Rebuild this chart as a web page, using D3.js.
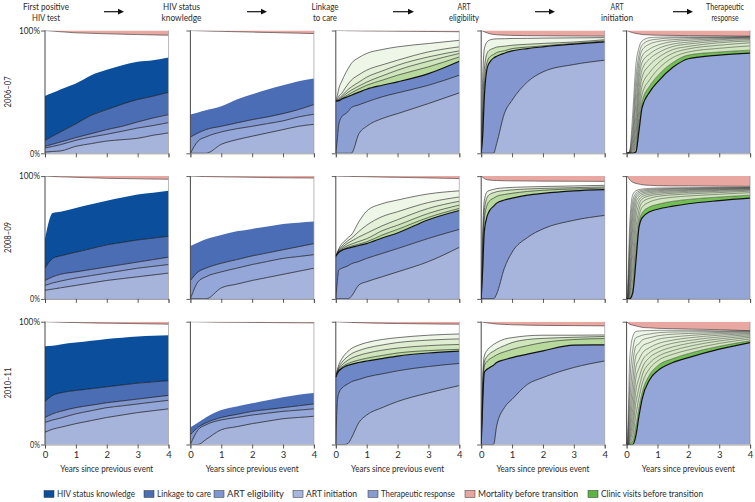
<!DOCTYPE html>
<html><head><meta charset="utf-8">
<script src="https://cdn.jsdelivr.net/npm/d3@7"></script>
<style>
body{margin:0;background:#fff;}
text{font-family:Lato,"Open Sans",sans-serif;fill:#2b2b2b;}
</style></head><body>
<svg id="chart" width="755" height="502"></svg>
<script>
// ---------- labels ----------
const periods = ["2006–07", "2008–09", "2010–11"];
const stageTitles = [["First positive","HIV test"],["HIV status","knowledge"],["Linkage","to care"],["ART","eligibility"],["ART","initiation"],["Therapeutic","response"]];
const xTicks = [0, 1, 2, 3, 4];
const yTicks = [0, 100];
const yTickLabels = ["0%", "100%"];
const xAxisTitle = "Years since previous event";
const legendLabels = ["HIV status knowledge","Linkage to care","ART eligibility","ART initiation","Therapeutic response","Mortality before transition","Clinic visits before transition"];

// ---------- time grids (years since previous event) ----------
const gridCoarse = [0, 0.25, 0.5, 1, 1.5, 2, 2.5, 3, 3.5, 4];
const gridFine = [0, 0.05, 0.1, 0.2, 0.3, 0.4, 0.5, 0.75, 1, 1.5, 2, 3, 4];

// ---------- cumulative % (bottom -> top) ----------
// 2006–07
const blue_06_1 = [
  [1, 1.5, 1.9, 5.7, 7.9, 10, 11.1, 12.2, 14.7, 16.6],
  [4.3, 5.6, 7, 10.6, 13.3, 15.5, 18, 20.6, 22.6, 25],
  [5.7, 7.4, 9.2, 12.8, 16, 19.3, 22, 25.5, 28.8, 31.5],
  [10.6, 14, 17.4, 24, 31, 35.6, 40, 43.8, 46.5, 49.7],
  [46.7, 49.3, 52, 56.8, 63.6, 68, 71.7, 74.5, 75.8, 78]];
const death_06_1 = [0, 0.5, 1, 1.9, 2.3, 2.7, 3, 3.3, 3.6, 3.8];
const blue_06_2 = [
  [0, 0, 0, 7.3, 11.1, 13.9, 16.6, 19.3, 22, 23.6],
  [0, 10, 13.3, 17.4, 20, 22, 24.2, 26.4, 29.6, 31.8],
  [13.3, 16.6, 19.3, 22, 24.7, 27.4, 29.6, 32.3, 35.6, 39.7],
  [31.5, 33.3, 35, 38.3, 43.8, 48, 52, 55.4, 58.7, 60.9]];
const death_06_2 = [0, 0.2, 0.4, 0.7, 1, 1.3, 1.6, 1.9, 2.2, 2.5];
const blue_06_3 = [
  [0, 0, 0, 0, 0, 0, 0, 16, 22, 28.3, 32.3, 40.5, 49.2],
  [0, 12, 24, 30, 32, 34, 37.2, 39.5, 41.8, 46, 49.2, 55.4, 63.6],
  [42.4, 42.6, 42.9, 44.2, 45.3, 46.3, 47.3, 49.8, 52.2, 55.4, 58.2, 64.9, 75]];
const green_06_3 = [
  [42.4, 42.8, 43.2, 44.8, 46.3, 47.8, 49.2, 52.5, 55.4, 59.5, 63.6, 70.4, 78.5],
  [42.4, 43, 43.8, 45.8, 47.8, 49.8, 51.4, 54.8, 58, 63, 67.7, 75, 81.3],
  [42.4, 43.3, 44.6, 47, 49.5, 52, 54, 58, 62, 67, 71.7, 78.5, 83.4],
  [42.4, 44, 46.5, 49, 53, 56.5, 59.5, 64, 67.7, 72, 75.8, 82.6, 86.7],
  [42.4, 47, 53, 59, 64.5, 69, 73.1, 78, 81.3, 84.5, 86.7, 89.4, 92]];
const death_06_3 = [0, 0, 0, 0.1, 0.1, 0.2, 0.2, 0.3, 0.4, 0.5, 0.6, 0.8, 1];
const blue_06_4 = [
  [0, 0, 0, 0, 0, 0, 7.9, 32.3, 43.2, 58.2, 66.3, 72.3, 75.8],
  [0, 15, 45, 70, 75, 77.5, 79, 81.5, 83.4, 85.3, 86.7, 88.9, 90.8]];
const green_06_4 = [
  [0, 25, 55, 75, 79, 80.5, 82, 83.5, 85.3, 86.5, 87.5, 89.5, 91.5],
  [0, 38, 68, 82, 84.5, 85.5, 86.5, 87.2, 88, 88.8, 89.5, 90.6, 92.5],
  [8, 62, 85, 91, 92.5, 93, 93.2, 93.3, 93.5, 93.6, 93.8, 94, 94.2]];
const death_06_4 = [0, 0.5, 1, 2, 2.8, 3.2, 3.5, 3.8, 4, 4.2, 4.3, 4.5, 4.6];
const blue_06_5 = [
  [0, 0, 0, 0, 1, 18, 37, 50, 58, 70, 77, 80, 81.5]];
const green_06_5 = [
  [0, 0, 0, 0, 2, 23, 42, 55, 63, 74, 80, 82.5, 84],
  [0, 0, 0, 0.5, 5, 29, 48, 60, 68, 78, 82.5, 85.5, 87.5],
  [0, 0, 0.1, 1, 9, 36, 55, 66, 73, 81.5, 85, 88, 90],
  [0, 0, 0.2, 2, 15, 44, 62, 72, 77.5, 84.5, 87, 90, 91.5],
  [0, 0, 0.3, 3.5, 22, 52, 68, 77, 81.5, 87, 89, 91.3, 92.6],
  [0, 0.1, 0.5, 6, 30, 60, 74, 81, 85, 89, 90.5, 92.5, 93.4],
  [0, 0.1, 0.8, 10, 40, 67, 79, 85, 88, 91, 92, 93.3, 94],
  [0, 0.2, 1.1, 15, 50, 74, 84, 89, 91, 92.5, 93.2, 94, 94.5],
  [0, 0.3, 1.5, 22, 60, 80, 88, 92, 93, 94, 94.2, 94.5, 94.8],
  [0, 0.5, 2, 33, 72, 86, 91.5, 94.2, 94.6, 94.8, 94.8, 94.8, 95]];
const death_06_5 = [0, 0.5, 1, 1.8, 2.4, 2.8, 3.3, 3.6, 3.8, 4, 4.2, 4.4, 4.6];

// 2008–09
const blue_08_1 = [
  [7, 8, 9, 11, 13, 15, 16.5, 18, 19.5, 21],
  [11, 13, 14.5, 17, 19, 21, 23, 25, 26.5, 28],
  [15, 18, 20, 22, 24, 26, 28, 30, 32, 34],
  [25, 33, 35, 38, 41, 44, 46, 48, 49.5, 51],
  [49, 70, 71, 74, 77, 80, 82.5, 85, 86.5, 88]];
const death_08_1 = [0, 0.3, 0.6, 1, 1.4, 1.8, 2, 2.2, 2.4, 2.6];
const blue_08_2 = [
  [0, 0, 0, 9, 12, 15, 17.5, 20, 22.5, 25],
  [0, 14, 18, 22, 25, 28, 30.5, 33, 34.5, 36],
  [15, 22, 25, 29, 32, 35, 37.5, 40, 42.5, 45],
  [43, 46, 48.5, 52, 55, 57, 59, 61, 62, 63]];
const death_08_2 = [0, 0.2, 0.4, 0.6, 0.8, 1, 1.2, 1.4, 1.5, 1.6];
const blue_08_3 = [
  [0, 0, 0, 0, 0, 0, 2, 11.4, 14, 18, 22, 30.4, 42],
  [0, 15, 23.6, 25, 26, 27, 28.5, 30.5, 33, 37, 41, 49.3, 56.6],
  [34.7, 36.5, 38, 39.5, 40.5, 41.3, 42, 43.5, 45, 49.6, 53.7, 64.5, 72]];
const green_08_3 = [
  [34.7, 36.7, 38.4, 40, 41.2, 42.2, 43, 44.6, 46.5, 52, 56.6, 66.4, 73.7],
  [34.7, 37, 38.8, 40.8, 42.3, 43.6, 44.6, 46.8, 49, 55.5, 60, 69.6, 76.4],
  [34.7, 37.3, 39.4, 41.8, 43.8, 45.6, 47, 50.5, 53.5, 59.5, 64.5, 73.7, 79.5],
  [34.7, 37.6, 40, 43, 45.5, 47.6, 49.3, 55, 60, 67, 71, 78.5, 83],
  [34.7, 38, 41, 45, 47.5, 50, 52, 63, 71.5, 77.5, 80.5, 85.5, 88]];
const death_08_3 = [0, 0, 0.1, 0.1, 0.2, 0.2, 0.3, 0.4, 0.5, 0.8, 1, 1.5, 2];
const blue_08_4 = [
  [0, 0, 0, 0, 0, 0, 4, 25, 38, 50, 57, 64, 68],
  [0, 25, 55, 68, 73, 75.5, 78, 80.5, 82, 84.5, 86, 88, 89]];
const green_08_4 = [
  [0, 35, 65, 77, 80.5, 82, 83.5, 85, 86, 87.5, 88.5, 89.5, 90.2],
  [0, 45, 72, 83, 85.5, 86.5, 87.3, 88.2, 88.8, 89.5, 90, 90.6, 91.2],
  [0, 55, 80, 87.5, 88.5, 89.2, 89.8, 90.4, 90.8, 91.2, 91.5, 92, 92.5]];
const death_08_4 = [0, 1, 2, 3, 3.3, 3.5, 3.6, 3.8, 3.9, 4, 4.1, 4.2, 4.3];
const blue_08_5 = [
  [0, 0, 0, 5, 30, 58, 66, 71, 73, 75.5, 77.5, 80, 82]];
const green_08_5 = [
  [0, 0, 1, 9, 38, 62, 70, 75, 77, 79.5, 81, 83, 84.5],
  [0, 0, 2, 16, 47, 67, 74.5, 79, 81, 82.8, 83.8, 85.2, 86.5],
  [0, 0.2, 4, 26, 57, 72.5, 78.5, 82, 83.5, 84.7, 85.5, 86.6, 87.7],
  [0, 0.5, 7, 37, 66, 77, 81.3, 84, 85, 86, 86.7, 87.6, 88.5],
  [0, 1, 12, 48, 73, 80.5, 83.3, 85.3, 86.2, 87, 87.6, 88.4, 89.1],
  [0, 2, 19, 58, 78, 83, 85, 86.5, 87.2, 87.9, 88.4, 89, 89.6],
  [0, 4, 28, 67, 81.5, 85, 86.3, 87.5, 88.1, 88.6, 89, 89.5, 90],
  [0, 7, 38, 74, 84, 86.5, 87.5, 88.4, 88.9, 89.3, 89.6, 90, 90.4],
  [0, 12, 48, 80, 86, 87.8, 88.5, 89.2, 89.6, 89.9, 90.1, 90.4, 90.7],
  [0, 20, 60, 85, 88, 89, 89.5, 90, 90.3, 90.5, 90.6, 90.8, 91]];
const death_08_5 = [0, 1, 3, 5, 6, 6.5, 7, 7.5, 7.8, 8, 8, 8.2, 8.3];

// 2010–11
const blue_10_1 = [
  [10, 12.5, 14, 17, 19.5, 22, 24, 26, 27.5, 29],
  [18, 20, 21.5, 25, 27.5, 30, 31.5, 33, 34.5, 36],
  [22, 25, 27, 30, 32, 34, 35.5, 37, 38.5, 40],
  [35, 40, 42, 44, 45.5, 47, 48.5, 50, 51, 52],
  [80, 80.5, 81.5, 83, 84.5, 86, 87, 88, 88.5, 89]];
const death_10_1 = [0, 0.2, 0.4, 0.7, 1, 1.2, 1.4, 1.6, 1.8, 2];
const blue_10_2 = [
  [0, 0, 4, 12, 14.5, 17, 19, 21, 22, 23],
  [0, 12, 16, 20, 22, 24, 25.5, 27, 28, 29],
  [8, 14, 17.5, 22, 24.5, 27, 28.5, 30, 31.5, 33],
  [14, 18, 22, 28, 31, 33.5, 36, 38.5, 40.5, 42]];
const death_10_2 = [0, 0.1, 0.2, 0.4, 0.5, 0.6, 0.7, 0.8, 0.9, 1];
const blue_10_3 = [
  [0, 0, 0, 0, 0, 1, 5, 18, 24, 30, 35, 42, 48],
  [0, 35, 42, 46, 48, 49.5, 51, 53, 55, 57.5, 60, 63.5, 66],
  [55, 58, 60, 62, 63.5, 64.5, 65.3, 66.8, 68, 70, 72, 74.5, 76]];
const green_10_3 = [
  [55, 58.5, 60.8, 63.2, 64.8, 66, 67, 68.8, 70.3, 72.5, 74.5, 76.5, 77.5],
  [55, 59, 61.8, 64.8, 67, 68.8, 70.2, 72.6, 74.3, 76.8, 78.5, 80.5, 81.5],
  [55, 59.8, 63, 67, 69.8, 72, 73.8, 76.5, 78.5, 81, 83, 85, 86],
  [55, 61, 65, 70, 73.5, 76, 78, 81, 83, 85.5, 87, 89, 90]];
const death_10_3 = [0, 0.1, 0.2, 0.3, 0.4, 0.5, 0.6, 0.8, 1, 1.3, 1.5, 1.8, 2];
const blue_10_4 = [
  [0, 0, 0, 0, 0, 0, 15, 30, 36.8, 49, 54.5, 62.7, 68],
  [0, 35, 58.6, 61.5, 63, 64.5, 66.8, 69, 70.8, 73.6, 76.3, 81, 81.2]];
const green_10_4 = [
  [0, 42, 64, 68, 70, 71.5, 73, 75.5, 77.5, 80.5, 83, 85.5, 86.3],
  [0, 48, 67, 72, 74.5, 76, 77.6, 80.5, 83, 85.5, 86.4, 87.3, 88],
  [5, 55, 72, 77, 79.5, 81.5, 83, 85.8, 87, 88.5, 89, 89, 89.2]];
const death_10_4 = [0, 0.3, 0.6, 1, 1.3, 1.6, 1.9, 2.2, 2.5, 2.8, 3, 3.2, 3.4];
const blue_10_5 = [
  [0, 0, 0, 0, 7, 23, 36.8, 53, 60, 66.8, 70.8, 77.7, 83]];
const green_10_5 = [
  [0, 0, 0.5, 3, 15, 30, 42, 57, 64, 70, 74, 80, 84.5],
  [0, 0, 1, 7, 24, 38, 49, 62, 68, 73.5, 77, 82.3, 86],
  [0, 0.2, 2, 13, 34, 46, 56, 66.5, 71.5, 76.5, 79.8, 84.3, 87.3],
  [0, 0.4, 4, 20, 44, 54, 62, 71, 75, 79.5, 82.3, 86, 88.4],
  [0, 0.8, 7, 29, 54, 62, 68, 75, 78.5, 82.5, 84.6, 87.6, 89.4],
  [0, 1.5, 12, 40, 63, 69, 74, 79, 82, 85, 86.8, 89, 90.3],
  [0, 3, 20, 52, 72, 76, 80, 83, 85.5, 87.5, 88.7, 90.2, 91],
  [0, 6, 32, 65, 80, 82, 85, 87, 88.5, 89.8, 90.4, 91.2, 91.7],
  [0, 11, 48, 77, 87, 88, 89, 90, 91, 91.6, 91.8, 92, 92.2],
  [0, 20, 69.5, 88, 92, 92.4, 92.6, 92.8, 93, 93, 93, 92.6, 92.6]];
const death_10_5 = [0, 1, 2, 2.8, 3.4, 4, 4.6, 5, 5.4, 5.7, 6, 6.5, 7.4];

// ---------- assembly ----------
const blueSets = [[blue_06_1, blue_06_2, blue_06_3, blue_06_4, blue_06_5],
                  [blue_08_1, blue_08_2, blue_08_3, blue_08_4, blue_08_5],
                  [blue_10_1, blue_10_2, blue_10_3, blue_10_4, blue_10_5]];
const greenSets = [[[], [], green_06_3, green_06_4, green_06_5],
                   [[], [], green_08_3, green_08_4, green_08_5],
                   [[], [], green_10_3, green_10_4, green_10_5]];
const deathSets = [[death_06_1, death_06_2, death_06_3, death_06_4, death_06_5],
                   [death_08_1, death_08_2, death_08_3, death_08_4, death_08_5],
                   [death_10_1, death_10_2, death_10_3, death_10_4, death_10_5]];

// styling
const blueColors = [
  ['#a6b4dc', '#94a6d7', '#8397cf', '#4b6db4', '#0b4f9c'],
  ['#a6b4dc', '#95a7d8', '#8197cf', '#4a6db5'],
  ['#a6b4dc', '#8da0d3', '#6e88c7'],
  ['#a7b5dd', '#8396cf'],
  ['#94a5d7']];
const legendColors = ['#0b4f9c', '#4a6db3', '#7f96cf', '#a6b6df', '#8a9bcf', '#e8a6a1', '#5cb443'];
const pink = '#e9a7a2';

const svg = d3.select('#chart');
const W = 123.5, H = 122.8;
const colLeft = c => 45 + 145.4 * c;
const rowTop = r => 30.5 + 145.6 * r;

const x = d3.scaleLinear().domain([0, 4]).range([0, W]);
const y = d3.scaleLinear().domain([0, 100]).range([H, 0]);

const defs = svg.append('defs');
defs.append('clipPath').attr('id', 'clip').append('rect')
  .attr('x', 0).attr('y', 0).attr('width', W).attr('height', H);

function areaGen(grid, lower, upper) {
  return d3.area()
    .x((d, i) => x(grid[i]))
    .y0((d, i) => y(lower[i]))
    .y1((d, i) => y(upper[i]))
    .curve(d3.curveMonotoneX)(upper);
}
function lineGen(grid, vals) {
  return d3.line().x((d, i) => x(grid[i])).y(d => y(d)).curve(d3.curveMonotoneX)(vals);
}
// squeeze text to the width it occupies in the reference
function fit(sel, w) {
  sel.each(function () {
    const cur = this.getComputedTextLength();
    if (Math.abs(cur - w) > 1) d3.select(this).attr('textLength', w).attr('lengthAdjust', 'spacingAndGlyphs');
  });
  return sel;
}

for (let r = 0; r < 3; r++) {
  for (let c = 0; c < 5; c++) {
    const grid = c < 2 ? gridCoarse : gridFine;
    const g = svg.append('g').attr('transform', `translate(${colLeft(c)},${rowTop(r)})`);
    const plot = g.append('g').attr('clip-path', 'url(#clip)');
    const blues = blueSets[r][c], greens = greenSets[r][c], death = deathSets[r][c];
    const zeros = grid.map(() => 0);
    let lower = zeros;
    blues.forEach((upper, k) => {
      plot.append('path').attr('d', areaGen(grid, lower, upper)).attr('fill', blueColors[c][k]);
      lower = upper;
    });
    const nG = greens.length;
    greens.forEach((upper, k) => {
      let col;
      if (k === 0) col = c === 4 ? '#74bf55' : '#b7d99c';
      else col = d3.interpolateRgb(c === 4 ? '#d2e6c0' : '#cfe5bb', '#eef6e7')(nG > 2 ? (k - 1) / (nG - 2) : 1);
      plot.append('path').attr('d', areaGen(grid, lower, upper)).attr('fill', col);
      lower = upper;
    });
    const top = death.map(d => 100 - d);
    const hundred = grid.map(() => 100);
    plot.append('path').attr('d', areaGen(grid, top, hundred)).attr('fill', pink);
    greens.forEach(vals => {
      plot.append('path').attr('d', lineGen(grid, vals)).attr('fill', 'none')
        .attr('stroke', '#1a1a1a').attr('stroke-width', c === 4 ? 0.45 : 0.6);
    });
    blues.forEach((vals, k) => {
      const isTop = k === blues.length - 1;
      if (isTop && c < 2) return;
      plot.append('path').attr('d', lineGen(grid, vals)).attr('fill', 'none')
        .attr('stroke', '#111').attr('stroke-width', isTop ? 1.2 : 0.7);
    });
    plot.append('path').attr('d', lineGen(grid, top)).attr('fill', 'none')
      .attr('stroke', '#333').attr('stroke-width', 0.6);

    g.append('line').attr('x1', x(4)).attr('x2', x(4)).attr('y1', y(0)).attr('y2', y(100))
      .attr('stroke', '#777').attr('stroke-width', 0.5);
    g.append('line').attr('x1', 0).attr('x2', 0).attr('y1', y(0)).attr('y2', y(100))
      .attr('stroke', '#333').attr('stroke-width', 0.9);
    const yAxis = d3.axisLeft(y).tickValues(yTicks).tickSize(4)
      .tickFormat((d, i) => c === 0 ? yTickLabels[i] : '');
    const ya = g.append('g').call(yAxis);
    ya.select('.domain').remove();
    ya.selectAll('line').attr('stroke', '#333').attr('stroke-width', 0.8);
    ya.selectAll('text').attr('font-size', 9).attr('font-family', 'Lato').attr('x', -5).attr('fill', '#2b2b2b');
    if (c === 0) ya.selectAll('text').each(function (d) { fit(d3.select(this), d === 100 ? 21 : 10); });

    const xAxis = d3.axisBottom(x).tickValues(xTicks).tickSize(4)
      .tickFormat(d => r === 2 ? d : '');
    const xa = g.append('g').attr('transform', `translate(0,${H})`).call(xAxis);
    xa.select('.domain').attr('stroke', '#555').attr('stroke-width', 0.6);
    xa.selectAll('line').attr('stroke', '#333').attr('stroke-width', 0.8);
    xa.selectAll('text').attr('font-size', 9.5).attr('font-family', 'Lato').attr('y', 6.5).attr('fill', '#2b2b2b');

    if (r === 2) {
      fit(g.append('text').attr('x', W / 2).attr('y', H + 27.5).attr('text-anchor', 'middle')
        .attr('font-size', 9).text(xAxisTitle), 93);
    }
  }
  const cy = rowTop(r) + H / 2;
  fit(svg.append('text').attr('transform', `translate(10.5,${cy}) rotate(-90)`)
    .attr('text-anchor', 'middle').attr('font-size', 9.5).text(periods[r]), 31);
}

// headers
const headerX = [46, 181.5, 325, 464, 617, 725];
const headerW = [[46, 28], [37, 40], [27, 24], [13, 30], [13, 32], [38, 27]];
stageTitles.forEach((lines, i) => {
  lines.forEach((t, j) => {
    fit(svg.append('text').attr('x', headerX[i]).attr('y', 10 + j * 11)
      .attr('text-anchor', 'middle').attr('font-size', 9).text(t), headerW[i][j]);
  });
});
const arrows = [[104, 124], [247, 267], [393, 414], [535, 555], [673, 693]];
arrows.forEach(([a, b]) => {
  svg.append('line').attr('x1', a).attr('x2', b - 4).attr('y1', 11.7).attr('y2', 11.7)
    .attr('stroke', '#111').attr('stroke-width', 1.2);
  svg.append('path').attr('d', `M${b},11.7 L${b - 6},8.8 L${b - 6},14.6 Z`).attr('fill', '#111');
});

// legend
const legendX = [44, 144, 214, 293, 368, 465, 588];
const legendW = [78, 54, 57, 51, 74, 100, 102];
legendLabels.forEach((lab, i) => {
  svg.append('rect').attr('x', legendX[i]).attr('y', 490.5).attr('width', 10).attr('height', 7)
    .attr('fill', legendColors[i]).attr('stroke', '#333').attr('stroke-width', 0.5);
  fit(svg.append('text').attr('x', legendX[i] + 13).attr('y', 497.3).attr('font-size', 9).text(lab), legendW[i]);
});
</script>
</body></html>
